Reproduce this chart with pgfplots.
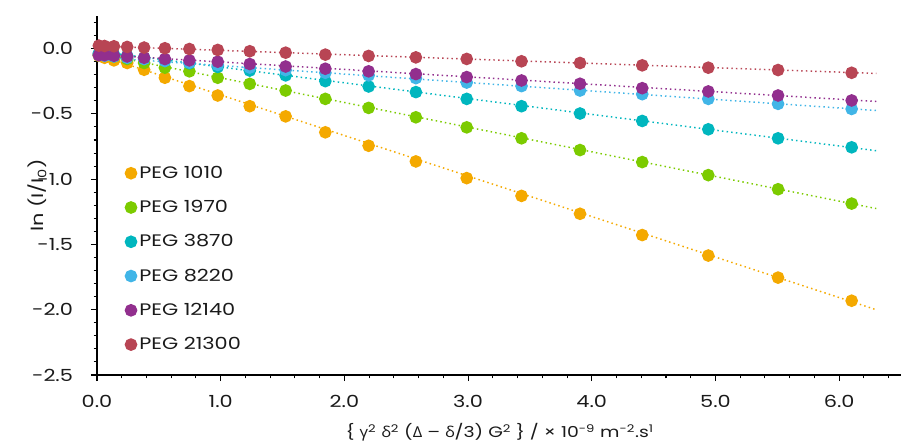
\documentclass[border=0pt]{standalone}
\usepackage{fontspec}
\setmainfont{Poppins}[FakeStretch=1.25]
\newfontfamily\grk{Open Sans}[FakeStretch=1.1]
\usepackage{pgfplots}
\pgfplotsset{compat=1.18}
\definecolor{cOr}{HTML}{F4A900}
\definecolor{cGr}{HTML}{7CCB00}
\definecolor{cCy}{HTML}{00B6BE}
\definecolor{cBl}{HTML}{41B5E7}
\definecolor{cPu}{HTML}{922F8E}
\definecolor{cRd}{HTML}{B84554}
\definecolor{txt}{HTML}{1A1A1A}
\begin{document}
\begin{tikzpicture}
\begin{axis}[
  scale only axis, width=603pt, height=269.25pt,
  xmin=0, xmax=6.5, ymin=-2.5, ymax=0.25,
  axis lines=left, axis line style={-, line width=1.1pt, black},
  xtick={0,1,2,3,4,5,6},
  minor xtick={0.2,0.4,0.6,0.8,1.2,1.4,1.6,1.8,2.2,2.4,2.6,2.8,3.2,3.4,3.6,3.8,4.2,4.4,4.6,4.8,5.2,5.4,5.6,5.8,6.2,6.4},
  ytick={-2.5,-2,-1.5,-1,-0.5,0},
  minor ytick={-2.4,-2.3,-2.2,-2.1,-1.9,-1.8,-1.7,-1.6,-1.4,-1.3,-1.2,-1.1,-0.9,-0.8,-0.7,-0.6,-0.4,-0.3,-0.2,-0.1,0.1,0.2},
  tick align=outside, major tick length=4.5pt, minor tick length=2.5pt,
  tick style={black, line width=0.8pt},
  /pgf/number format/assume math mode=true,
  /pgf/number format/.cd, fixed, fixed zerofill, precision=1, /pgfplots/.cd,
  ticklabel style={font=\fontsize{12.5}{14}\selectfont, text=txt},
  xticklabel style={yshift=-7pt},
  yticklabel style={xshift=-10pt},
  xlabel={\{ {\grk γ}\textsuperscript{2} {\grk δ}\textsuperscript{2} ({\grk Δ} – {\grk δ}/3) G\textsuperscript{2} \} / × 10\textsuperscript{-9} m\textsuperscript{-2}.s\textsuperscript{1}},
  ylabel={ln (I/I\textsubscript{0})},
  label style={text=txt},
  xlabel style={font=\fontsize{11.3}{13}\selectfont, at={(axis description cs:0.501,0)}, anchor=center, yshift=-43pt},
  ylabel style={font=\fontsize{12.5}{14}\selectfont, at={(axis description cs:0,0.5)}, anchor=center, yshift=45pt},
  legend style={at={(axis description cs:0.035,0.59)}, anchor=north west, draw=none, fill=none,
    font=\fontsize{12.5}{14}\selectfont, text=txt, row sep=11pt, inner sep=0pt},
  legend cell align=left,
  every axis plot/.append style={line width=1.1pt},
]
% fitted lines
\addplot[cOr, dash pattern=on 1.1pt off 2.4pt, forget plot] coordinates {(0,-0.045) (6.3,-2.0)};
\addplot[cGr, dash pattern=on 1.1pt off 2.4pt, forget plot] coordinates {(0,-0.035) (6.3,-1.225)};
\addplot[cCy, dash pattern=on 1.1pt off 2.4pt, forget plot] coordinates {(0,-0.02) (6.3,-0.782)};
\addplot[cBl, dash pattern=on 1.1pt off 2.4pt, forget plot] coordinates {(0,-0.065) (6.3,-0.474)};
\addplot[cPu, dash pattern=on 1.1pt off 2.4pt, forget plot] coordinates {(0,-0.045) (6.3,-0.405)};
\addplot[cRd, dash pattern=on 1.1pt off 2.4pt, forget plot] coordinates {(0,0.02) (6.3,-0.19)};
% data
\addplot[only marks, mark=*, mark size=4.2pt, color=cOr] coordinates {
(0.015,-0.055) (0.061,-0.07) (0.137,-0.09) (0.244,-0.11) (0.381,-0.162) (0.549,-0.223) (0.747,-0.287) (0.976,-0.359) (1.235,-0.441) (1.525,-0.519) (1.846,-0.641) (2.196,-0.744) (2.578,-0.864) (2.989,-0.992) (3.432,-1.128) (3.905,-1.265) (4.408,-1.428) (4.942,-1.585) (5.506,-1.754) (6.101,-1.931)};
\addlegendentry{PEG 1010}
\addplot[only marks, mark=*, mark size=4.2pt, color=cGr] coordinates {
(0.015,-0.045) (0.061,-0.05) (0.137,-0.06) (0.244,-0.08) (0.381,-0.11) (0.549,-0.146) (0.747,-0.174) (0.976,-0.223) (1.235,-0.27) (1.525,-0.321) (1.846,-0.385) (2.196,-0.454) (2.578,-0.526) (2.989,-0.603) (3.432,-0.687) (3.905,-0.777) (4.408,-0.869) (4.942,-0.969) (5.506,-1.077) (6.101,-1.187)};
\addlegendentry{PEG 1970}
\addplot[only marks, mark=*, mark size=4.2pt, color=cCy] coordinates {
(0.015,-0.035) (0.061,-0.04) (0.137,-0.045) (0.244,-0.055) (0.381,-0.07) (0.549,-0.09) (0.747,-0.112) (0.976,-0.14) (1.235,-0.168) (1.525,-0.205) (1.846,-0.249) (2.196,-0.29) (2.578,-0.333) (2.989,-0.385) (3.432,-0.441) (3.905,-0.497) (4.408,-0.554) (4.942,-0.618) (5.506,-0.687) (6.101,-0.756)};
\addlegendentry{PEG 3870}
\addplot[only marks, mark=*, mark size=4.2pt, color=cBl] coordinates {
(0.015,-0.05) (0.061,-0.055) (0.137,-0.06) (0.244,-0.07) (0.381,-0.08) (0.549,-0.095) (0.747,-0.108) (0.976,-0.125) (1.235,-0.145) (1.525,-0.165) (1.846,-0.185) (2.196,-0.205) (2.578,-0.226) (2.989,-0.26) (3.432,-0.287) (3.905,-0.321) (4.408,-0.349) (4.942,-0.385) (5.506,-0.423) (6.101,-0.462)};
\addlegendentry{PEG 8220}
\addplot[only marks, mark=*, mark size=4.2pt, color=cPu] coordinates {
(0.015,-0.05) (0.061,-0.05) (0.137,-0.055) (0.244,-0.06) (0.381,-0.07) (0.549,-0.08) (0.747,-0.09) (0.976,-0.10) (1.235,-0.118) (1.525,-0.137) (1.846,-0.154) (2.196,-0.174) (2.578,-0.195) (2.989,-0.218) (3.432,-0.244) (3.905,-0.269) (4.408,-0.303) (4.942,-0.328) (5.506,-0.359) (6.101,-0.397)};
\addlegendentry{PEG 12140}
\addplot[only marks, mark=*, mark size=4.2pt, color=cRd] coordinates {
(0.015,0.023) (0.061,0.02) (0.137,0.018) (0.244,0.013) (0.381,0.008) (0.549,0.003) (0.747,-0.003) (0.976,-0.01) (1.235,-0.02) (1.525,-0.031) (1.846,-0.046) (2.196,-0.056) (2.578,-0.067) (2.989,-0.079) (3.432,-0.097) (3.905,-0.11) (4.408,-0.128) (4.942,-0.146) (5.506,-0.164) (6.101,-0.185)};
\addlegendentry{PEG 21300}
\end{axis}
\pgfresetboundingbox
\path (current axis.south west) ++(-72.75pt,-52.5pt) coordinate (bbA);
\path (current axis.north east) ++(7.5pt,12pt) coordinate (bbB);
\path[use as bounding box] (bbA) rectangle (bbB);
\end{tikzpicture}
\end{document}
